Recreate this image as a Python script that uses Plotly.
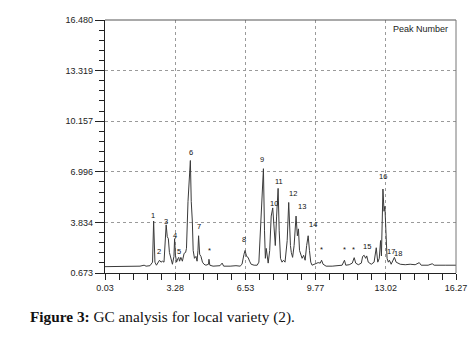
import plotly.graph_objects as go

# Chromatogram trace (retention time, signal)
time = [0.03, 1.19, 1.65, 1.84, 1.93, 2.11, 2.23, 2.28, 2.34, 2.41, 2.48, 2.55, 2.62, 2.69, 2.76,
        2.83, 2.86, 2.91, 2.96, 3.01, 3.08, 3.15, 3.22, 3.25, 3.29, 3.34, 3.41, 3.44, 3.48, 3.54,
        3.61, 3.69, 3.76, 3.80, 3.87, 3.98, 4.02, 4.07, 4.11, 4.17, 4.24, 4.29, 4.33, 4.36, 4.41,
        4.47, 4.54, 4.61, 4.70, 4.82, 4.84, 4.88, 5.03, 5.35, 5.45, 5.52, 5.82, 6.09, 6.28, 6.37,
        6.46, 6.51, 6.58, 6.65, 6.72, 6.79, 6.93, 7.07, 7.15, 7.23, 7.36, 7.41, 7.45, 7.49, 7.53,
        7.58, 7.65, 7.72, 7.79, 7.85, 7.91, 7.97, 8.04, 8.09, 8.15, 8.22, 8.29, 8.36, 8.46, 8.53,
        8.58, 8.61, 8.65, 8.71, 8.78, 8.87, 8.93, 8.98, 9.03, 9.10, 9.15, 9.22, 9.29, 9.36, 9.43,
        9.49, 9.55, 9.61, 9.75, 9.89, 9.99, 10.05, 10.12, 10.26, 10.54, 10.82, 11.00, 11.11, 11.17,
        11.33, 11.47, 11.56, 11.63, 11.75, 11.89, 11.95, 12.02, 12.09, 12.14, 12.21, 12.35, 12.48,
        12.58, 12.65, 12.72, 12.78, 12.82, 12.89, 12.94, 12.98, 13.04, 13.08, 13.14, 13.19, 13.27,
        13.36, 13.42, 13.50, 13.69, 13.92, 14.15, 14.38, 14.57, 14.66, 14.98, 15.17, 15.26, 15.77,
        16.27]
signal = [1.07, 1.07, 1.10, 1.16, 1.10, 1.13, 1.35, 3.92, 1.35, 1.16, 1.29, 1.47, 1.35, 1.41, 1.35,
          2.70, 3.68, 2.94, 2.82, 1.96, 1.47, 1.22, 1.71, 2.82, 1.78, 1.35, 1.59, 1.65, 1.41, 1.65,
          1.41, 1.90, 1.96, 2.21, 5.15, 7.70, 5.15, 3.92, 2.08, 1.59, 1.71, 1.41, 2.08, 3.00, 1.84,
          1.71, 1.35, 1.22, 1.16, 1.22, 1.53, 1.16, 1.10, 1.13, 1.29, 1.10, 1.10, 1.13, 1.10, 1.22,
          1.84, 2.08, 1.71, 1.65, 1.41, 1.22, 1.16, 1.16, 1.35, 3.31, 7.19, 3.31, 1.59, 2.21, 1.59,
          1.29, 2.08, 4.23, 4.74, 3.31, 2.39, 4.23, 5.96, 3.31, 1.59, 1.35, 1.47, 1.35, 2.70, 5.08,
          2.70, 2.39, 1.96, 1.65, 2.39, 4.23, 3.00, 3.43, 2.08, 1.78, 1.59, 1.78, 1.47, 2.39, 3.00,
          2.08, 1.35, 1.16, 1.22, 1.32, 1.29, 1.47, 1.22, 1.10, 1.10, 1.13, 1.16, 1.47, 1.16,
          1.19, 1.29, 1.63, 1.29, 1.19, 1.29, 1.71, 1.78, 1.59, 1.74, 1.35, 1.22, 1.35,
          2.25, 1.35, 1.59, 2.70, 1.74, 5.92, 4.53, 4.84, 2.70, 1.59, 1.35, 1.47, 1.22,
          1.47, 1.65, 1.35, 1.22, 1.19, 1.22, 1.19, 1.32, 1.16, 1.16, 1.25, 1.16, 1.16,
          1.16]

# Peak labels
peak_labels = ["1", "2", "3", "4", "5", "6", "7", "*", "8", "9", "10", "11", "12", "13", "14",
               "*", "*", "*", "15", "16", "17", "18"]
label_time = [2.27, 2.53, 2.83, 3.25, 3.46, 4.00, 4.37, 4.86, 6.48, 7.30, 7.84, 8.07, 8.72, 9.14,
              9.67, 10.06, 11.11, 11.54, 12.17, 12.89, 13.24, 13.60]
label_signal = [4.29, 2.02, 3.86, 3.00, 2.02, 8.21, 3.57, 2.08, 2.74, 7.76, 5.00, 6.37, 5.62, 4.80,
                3.72, 2.12, 2.16, 2.16, 2.33, 6.68, 2.04, 1.92]

x_tickvals = [0.03, 3.28, 6.53, 9.77, 13.02, 16.27]
x_ticktext = ["0.03", "3.28", "6.53", "9.77", "13.02", "16.27"]
y_tickvals = [0.673, 3.834, 6.996, 10.157, 13.319, 16.480]
y_ticktext = ["0.673", "3.834", "6.996", "10.157", "13.319", "16.480"]

fig = go.Figure()
fig.add_trace(go.Scatter(x=time, y=signal, mode="lines",
                         line=dict(color="#3a3a3a", width=1), hoverinfo="skip"))

for txt, tx, ty in zip(peak_labels, label_time, label_signal):
    fig.add_annotation(x=tx, y=ty, text=txt, showarrow=False,
                       font=dict(family="Liberation Sans, Arial", size=7.5, color="#111"))

fig.add_annotation(xref="paper", yref="paper", x=0.899, y=0.964, xanchor="center", yanchor="middle",
                   text="Peak Number", showarrow=False,
                   font=dict(family="Liberation Sans, Arial", size=9, color="#1a1a1a"))

fig.add_annotation(xref="paper", yref="paper", x=-0.219, y=-0.174, xanchor="left", yanchor="middle",
                   text="<b>Figure 3:</b> GC analysis for local variety (2).", showarrow=False,
                   font=dict(family="Liberation Serif, Times New Roman, serif", size=15.3, color="#111"))

# top and right frame lines
fig.add_shape(type="line", xref="paper", yref="paper", x0=0, x1=1, y0=1, y1=1,
              line=dict(color="#555", width=1))
fig.add_shape(type="line", xref="paper", yref="paper", x0=1, x1=1, y0=0, y1=1,
              line=dict(color="#777", width=1))

fig.update_xaxes(range=[0.03, 16.27], tickmode="array", tickvals=x_tickvals, ticktext=x_ticktext,
                 showline=True, linecolor="#222", linewidth=1.3,
                 ticks="outside", ticklen=6, tickcolor="#222", tickwidth=1,
                 showgrid=True, gridcolor="#9a9a9a", griddash="dot", gridwidth=1,
                 zeroline=False, ticklabeloverflow="allow",
                 tickfont=dict(family="Liberation Sans, Arial", size=9, color="#222"),
                 minor=dict(tick0=0.03, dtick=0.65, ticks="outside", ticklen=6,
                            tickcolor="#222", showgrid=False))
fig.update_yaxes(range=[0.673, 16.480], tickmode="array", tickvals=y_tickvals, ticktext=y_ticktext,
                 showline=True, linecolor="#222", linewidth=1.3,
                 ticks="outside", ticklen=9, tickcolor="#222", tickwidth=1,
                 showgrid=True, gridcolor="#9a9a9a", griddash="dot", gridwidth=1,
                 zeroline=False,
                 tickfont=dict(family="Liberation Sans, Arial", size=9, color="#222"),
                 minor=dict(tick0=0.673, dtick=0.63227, ticks="outside", ticklen=5,
                            tickcolor="#222", showgrid=False))

# page body has an 8px default margin, so the figure is 8px smaller and shifted
fig.update_layout(width=468, height=355, margin=dict(l=97, r=20, t=7, b=90),
                  plot_bgcolor="white", paper_bgcolor="white", showlegend=False)

fig.write_html("out.html")
